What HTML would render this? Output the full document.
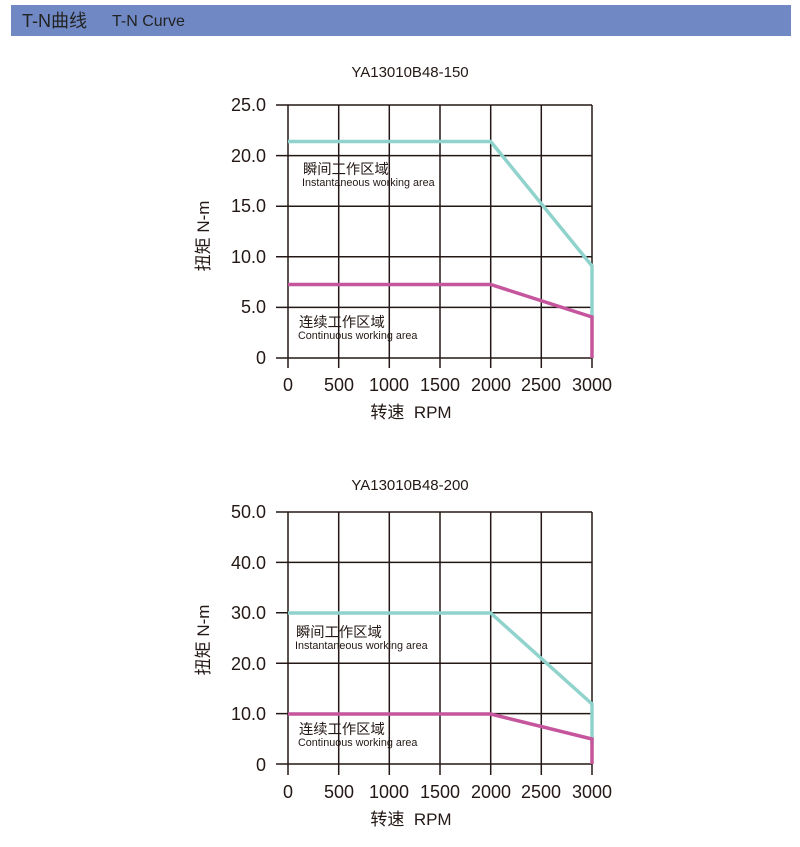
<!DOCTYPE html>
<html><head><meta charset="utf-8"><style>
body{margin:0;background:#fff;width:800px;height:847px;overflow:hidden}
svg{display:block}
text{font-family:"Liberation Sans","Noto Sans CJK SC",sans-serif;fill:#231815}
</style></head><body>
<svg width="800" height="847" viewBox="0 0 800 847">
<rect x="11" y="5" width="780" height="31" fill="#7089c4"/>
<text x="22" y="27" font-size="18" style="fill:#222">T-N曲线</text>
<text x="112" y="26" font-size="16" style="fill:#222">T-N Curve</text>

<!-- Chart 1 -->
<g>
<text x="410" y="77" font-size="15" text-anchor="middle">YA13010B48-150</text>
<g stroke="#231815" stroke-width="1.5" fill="none">
<path d="M276 105H592M276 155.6H592M276 206.2H592M276 256.8H592M276 307.4H592M276 358H592"/>
<path d="M288 105V368M338.7 105V368M389.3 105V368M440 105V368M490.7 105V368M541.3 105V368M592 105V368"/>
</g>
<g font-size="18" text-anchor="end">
<text x="266" y="111">25.0</text><text x="266" y="162">20.0</text><text x="266" y="212">15.0</text>
<text x="266" y="263">10.0</text><text x="266" y="313">5.0</text><text x="266" y="364">0</text>
</g>
<g font-size="18" text-anchor="middle">
<text x="288" y="391">0</text><text x="339" y="391">500</text><text x="389" y="391">1000</text><text x="440" y="391">1500</text>
<text x="491" y="391">2000</text><text x="541" y="391">2500</text><text x="592" y="391">3000</text>
</g>
<text x="411" y="418" font-size="17" text-anchor="middle">转速&#160;&#160;RPM</text>
<text transform="translate(209,236) rotate(-90)" font-size="17" text-anchor="middle">扭矩 N-m</text>
<polyline points="288,141.5 490.7,141.5 592,266 592,318" fill="none" stroke="#8fd3cc" stroke-width="3.5"/>
<polyline points="288,284.5 490.7,284.5 592,317 592,358" fill="none" stroke="#c5559c" stroke-width="3.5"/>
<text x="303" y="174" font-size="14.3">瞬间工作区域</text>
<text x="302" y="186" font-size="10.8">Instantaneous working area</text>
<text x="299" y="327" font-size="14.3">连续工作区域</text>
<text x="298" y="339" font-size="10.8">Continuous working area</text>
</g>

<!-- Chart 2 -->
<g>
<text x="410" y="490" font-size="15" text-anchor="middle">YA13010B48-200</text>
<g stroke="#231815" stroke-width="1.5" fill="none">
<path d="M276 512H592M276 562.4H592M276 612.8H592M276 663.2H592M276 713.6H592M276 764H592"/>
<path d="M288 512V775M338.7 512V775M389.3 512V775M440 512V775M490.7 512V775M541.3 512V775M592 512V775"/>
</g>
<g font-size="18" text-anchor="end">
<text x="266" y="518">50.0</text><text x="266" y="569">40.0</text><text x="266" y="619">30.0</text>
<text x="266" y="670">20.0</text><text x="266" y="720">10.0</text><text x="266" y="771">0</text>
</g>
<g font-size="18" text-anchor="middle">
<text x="288" y="798">0</text><text x="339" y="798">500</text><text x="389" y="798">1000</text><text x="440" y="798">1500</text>
<text x="491" y="798">2000</text><text x="541" y="798">2500</text><text x="592" y="798">3000</text>
</g>
<text x="411" y="825" font-size="17" text-anchor="middle">转速&#160;&#160;RPM</text>
<text transform="translate(209,640) rotate(-90)" font-size="17" text-anchor="middle">扭矩 N-m</text>
<polyline points="288,613 490.7,613 592,704 592,745" fill="none" stroke="#8fd3cc" stroke-width="3.5"/>
<polyline points="288,714 490.7,714 592,739 592,764" fill="none" stroke="#c5559c" stroke-width="3.5"/>
<text x="296" y="637" font-size="14.3">瞬间工作区域</text>
<text x="295" y="649" font-size="10.8">Instantaneous working area</text>
<text x="299" y="734" font-size="14.3">连续工作区域</text>
<text x="298" y="746" font-size="10.8">Continuous working area</text>
</g>
</svg>
</body></html>
